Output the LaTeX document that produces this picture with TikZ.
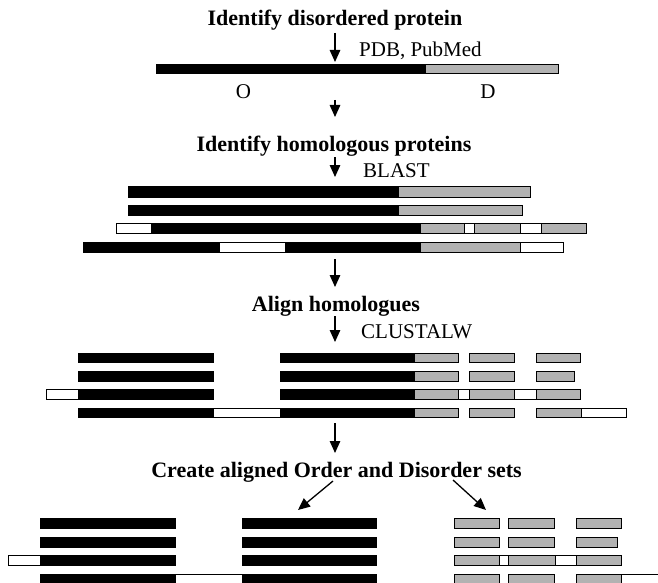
\documentclass[tikz,border=0pt]{standalone}
\usepackage{fontspec}
\setmainfont{Liberation Serif}
\usetikzlibrary{arrows.meta}
\begin{document}
\begin{tikzpicture}[x=1pt,y=-1pt,
  ordseg/.style={fill=black,draw=black,line width=0.6pt},
  disseg/.style={fill=black!30,draw=black,line width=0.8pt},
  gapseg/.style={fill=white,draw=black,line width=0.8pt},
  title/.style={font=\bfseries\fontsize{22}{24}\selectfont,anchor=base,inner sep=0pt},
  tool/.style={font=\fontsize{21}{24}\selectfont,anchor=base west,inner sep=0pt},
  flow/.style={line width=1.3pt,-{Triangle[length=12pt,width=10.5pt]}}]
\useasboundingbox (0,0) rectangle (658,583);
\clip (0,0) rectangle (658,583);

% ---------- texts ----------
\node[title] (t1) at (335,26) {Identify disordered protein};
\node[title] (t2) at (334,151) {Identify homologous proteins};
\node[title] (t3) at (336,311.7) {Align homologues};
\node[title] (t4) at (336.5,477.7) {Create aligned Order and Disorder sets};
\node[tool] (l1) at (359,56.7) {PDB, PubMed};
\node[tool] (l2) at (363,177.3) {BLAST};
\node[tool] (l3) at (361,338.3) {CLUSTALW};
\node[tool,anchor=base] (lo) at (243.5,99) {O};
\node[tool,anchor=base] (ld) at (488,99) {D};

% ---------- arrows ----------
\coordinate (a1s) at (335,33);   \coordinate (a1e) at (335,62);
\coordinate (a2s) at (335,100);  \coordinate (a2e) at (335,117);
\coordinate (a3s) at (335,157);  \coordinate (a3e) at (335,177);
\coordinate (a4s) at (335,259);  \coordinate (a4e) at (335,287);
\coordinate (a5s) at (335,316);  \coordinate (a5e) at (335,342);
\coordinate (a6s) at (335,423);  \coordinate (a6e) at (335,453);
\coordinate (a7s) at (333,481);  \coordinate (a7e) at (298,510);
\coordinate (a8s) at (453,480);  \coordinate (a8e) at (486,510);
\foreach \i in {1,...,8} {\draw[flow] (a\i s) -- (a\i e);}

% ---------- top bar ----------
\draw[ordseg] (156,64) rectangle (425,73);
\draw[disseg] (425,64) rectangle (558,73);

% ---------- homologues ----------
\draw[ordseg] (128,186) rectangle (398,197);
\draw[disseg] (398,186) rectangle (530,197);

\draw[ordseg] (128,205) rectangle (398,215.5);
\draw[disseg] (398,205) rectangle (522,215.5);

\draw[gapseg] (116,223) rectangle (151,233.5);
\draw[ordseg] (151,223) rectangle (420,233.5);
\draw[disseg] (420,223) rectangle (464,233.5);
\draw[gapseg] (464,223) rectangle (474,233.5);
\draw[disseg] (474,223) rectangle (520,233.5);
\draw[gapseg] (520,223) rectangle (541,233.5);
\draw[disseg] (541,223) rectangle (586,233.5);

\draw[ordseg] (83,242) rectangle (219,252);
\draw[gapseg] (219,242) rectangle (285,252);
\draw[ordseg] (285,242) rectangle (420,252);
\draw[disseg] (420,242) rectangle (520,252);
\draw[gapseg] (520,242) rectangle (563,252);

% ---------- aligned ----------
\draw[ordseg] (78,353) rectangle (213,362);
\draw[ordseg] (280,353) rectangle (414,362);
\draw[disseg] (414,353) rectangle (458,362);
\draw[disseg] (469,353) rectangle (514,362);
\draw[disseg] (536,353) rectangle (580,362);

\draw[ordseg] (78,371) rectangle (213,381);
\draw[ordseg] (280,371) rectangle (414,381);
\draw[disseg] (414,371) rectangle (458,381);
\draw[disseg] (469,371) rectangle (514,381);
\draw[disseg] (536,371) rectangle (574,381);

\draw[gapseg] (46,389.5) rectangle (78,399.5);
\draw[ordseg] (78,389.5) rectangle (213,399.5);
\draw[ordseg] (280,389.5) rectangle (414,399.5);
\draw[disseg] (414,389.5) rectangle (458,399.5);
\draw[gapseg] (458,389.5) rectangle (469,399.5);
\draw[disseg] (469,389.5) rectangle (514,399.5);
\draw[gapseg] (514,389.5) rectangle (536,399.5);
\draw[disseg] (536,389.5) rectangle (580,399.5);

\draw[ordseg] (78,408) rectangle (213,417);
\draw[gapseg] (213,408) rectangle (280,417);
\draw[ordseg] (280,408) rectangle (414,417);
\draw[disseg] (414,408) rectangle (458,417);
\draw[disseg] (469,408) rectangle (514,417);
\draw[disseg] (536,408) rectangle (581,417);
\draw[gapseg] (581,408) rectangle (626,417);

% ---------- order set ----------
\draw[ordseg] (40,518.5) rectangle (175,528.5);
\draw[ordseg] (242,518.5) rectangle (376,528.5);
\draw[ordseg] (40,537) rectangle (175,547);
\draw[ordseg] (242,537) rectangle (376,547);
\draw[gapseg] (8,555.5) rectangle (40,565);
\draw[ordseg] (40,555.5) rectangle (175,565);
\draw[ordseg] (242,555.5) rectangle (376,565);
\draw[ordseg] (40,574) rectangle (175,583);
\draw[gapseg] (175,574) rectangle (242,583);
\draw[ordseg] (242,574) rectangle (376,583);

% ---------- disorder set ----------
\draw[disseg] (454,518.5) rectangle (499,528.5);
\draw[disseg] (508,518.5) rectangle (554,528.5);
\draw[disseg] (576,518.5) rectangle (621,528.5);

\draw[disseg] (454,537) rectangle (499,547);
\draw[disseg] (508,537) rectangle (554,547);
\draw[disseg] (576,537) rectangle (617,547);

\draw[disseg] (454,555.5) rectangle (499,565);
\draw[gapseg] (499,555.5) rectangle (508,565);
\draw[disseg] (508,555.5) rectangle (555,565);
\draw[gapseg] (555,555.5) rectangle (576,565);
\draw[disseg] (576,555.5) rectangle (621,565);

\draw[disseg] (454,574) rectangle (499,583);
\draw[disseg] (508,574) rectangle (554,583);
\draw[disseg] (576,574) rectangle (621,583);
\draw[gapseg] (621,574) rectangle (666,583);
\end{tikzpicture}
\end{document}
